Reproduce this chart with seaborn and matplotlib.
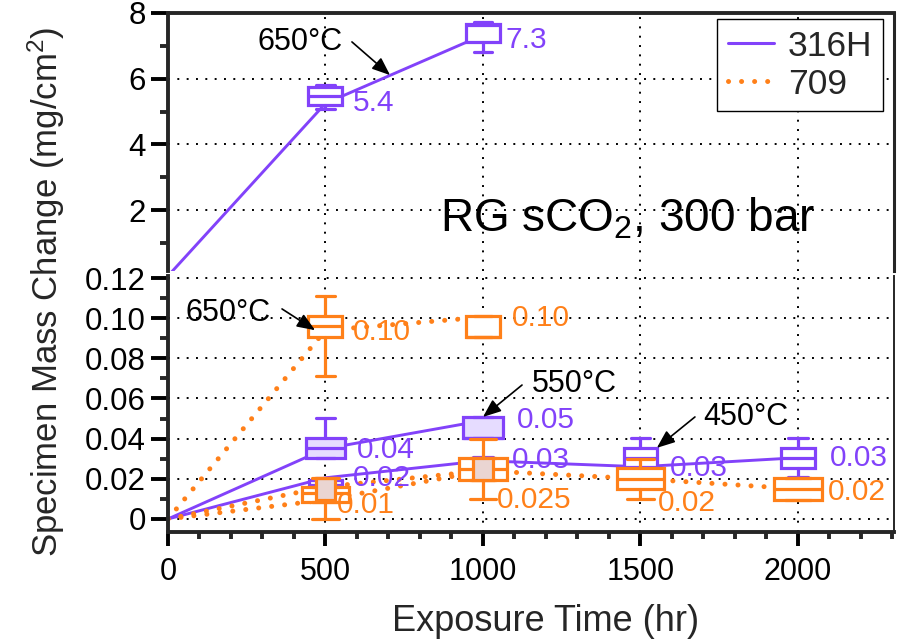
import matplotlib
matplotlib.use("Agg")
import matplotlib.pyplot as plt
from matplotlib.lines import Line2D
from matplotlib.ticker import MultipleLocator, FuncFormatter, FixedLocator
import seaborn as sns

# ---------------- data ----------------
# connecting lines (exposure time in hr, mass change in mg/cm2)
t_316H_650 = [0, 500, 1000]
m_316H_650 = [0.0, 5.25, 7.33]
t_316H_550 = [0, 500, 1000]
m_316H_550 = [0.0, 0.035, 0.049]
t_316H_450 = [0, 500, 1000, 1500, 2000]
m_316H_450 = [0.0, 0.0205, 0.029, 0.026, 0.0305]
t_709_650 = [0, 500, 1000]
m_709_650 = [0.0, 0.094, 0.1005]
t_709_550 = [0, 500, 1000]
m_709_550 = [0.0, 0.016, 0.024]
t_709_450 = [0, 500, 1000, 1500, 2000]
m_709_450 = [0.0, 0.0095, 0.024, 0.020, 0.015]

# box statistics
bx_316H_650_t = [500, 1000]
bx_316H_650_lo = [5.08, 6.81]
bx_316H_650_q1 = [5.20, 7.12]
bx_316H_650_med = [5.47, 7.64]
bx_316H_650_q3 = [5.75, 7.67]
bx_316H_650_hi = [5.81, 7.74]

bx_316H_550_t = [500, 1000]
bx_316H_550_lo = [0.0305, 0.0405]
bx_316H_550_q1 = [0.0305, 0.0405]
bx_316H_550_med = [0.0355, 0.0405]
bx_316H_550_q3 = [0.0405, 0.051]
bx_316H_550_hi = [0.0505, 0.051]

bx_316H_450_t = [500, 1000, 1500, 2000]
bx_316H_450_lo = [0.013, 0.023, 0.021, 0.021]
bx_316H_450_q1 = [0.014, 0.025, 0.026, 0.0255]
bx_316H_450_med = [0.017, 0.028, 0.0305, 0.0305]
bx_316H_450_q3 = [0.0195, 0.030, 0.0355, 0.0355]
bx_316H_450_hi = [0.0205, 0.031, 0.0405, 0.0405]

bx_709_650_t = [500, 1000]
bx_709_650_lo = [0.071, 0.0905]
bx_709_650_q1 = [0.0905, 0.0905]
bx_709_650_med = [0.096, 0.0905]
bx_709_650_q3 = [0.101, 0.101]
bx_709_650_hi = [0.111, 0.101]

bx_709_550_t = [500, 1000]
bx_709_550_lo = [0.0, 0.010]
bx_709_550_q1 = [0.0095, 0.0195]
bx_709_550_med = [0.0095, 0.0195]
bx_709_550_q3 = [0.0205, 0.0305]
bx_709_550_hi = [0.0205, 0.040]

bx_709_450_t = [500, 1000, 1500, 2000]
bx_709_450_lo = [0.0085, 0.0195, 0.010, 0.0095]
bx_709_450_q1 = [0.0085, 0.0195, 0.015, 0.0095]
bx_709_450_med = [0.013, 0.025, 0.020, 0.015]
bx_709_450_q3 = [0.016, 0.0305, 0.0255, 0.0205]
bx_709_450_hi = [0.016, 0.0305, 0.030, 0.0205]

# value labels
lbl_316H_650 = ["5.4", "7.3"]
lbl_316H_550 = ["0.04", "0.05"]
lbl_316H_450 = ["0.02", "0.03", "0.03", "0.03"]
lbl_709_650 = ["0.10", "0.10"]
lbl_709_450 = ["0.01", "0.025", "0.02", "0.02"]

x_ticks = [0, 500, 1000, 1500, 2000]
series_names = ["316H", "709"]

# ---------------- style ----------------
sns.set_theme(style="ticks")
plt.rcParams["font.family"] = ["Liberation Sans", "DejaVu Sans"]
plt.rcParams["mathtext.fontset"] = "custom"
plt.rcParams["mathtext.rm"] = "Liberation Sans"
plt.rcParams["mathtext.default"] = "regular"

PURPLE = "#8242fa"
ORANGE = "#ff8019"
LAV = "#e6dcff"
PINK = "#ead5d2"
DOT = (0, (0.01, 2.6))
GRID = (0, (1, 3.8))

W, H = 898, 642
fig = plt.figure(figsize=(W / 100, H / 100), dpi=100)
L, R = 168, 894
ax_up = fig.add_axes([L / W, 1 - 271 / H, (R - L) / W, (271 - 13) / H])
ax_lo = fig.add_axes([L / W, 1 - 532 / H, (R - L) / W, (532 - 276) / H])

XMAX = 2305
for ax in (ax_up, ax_lo):
    ax.set_xlim(0, XMAX)
    ax.xaxis.set_major_locator(FixedLocator(x_ticks))
    ax.xaxis.set_minor_locator(MultipleLocator(100))
    ax.grid(True, which="major", color="black", linestyle=GRID, linewidth=1.4)
    ax.set_axisbelow(True)
    ax.set_facecolor("white")

ax_up.set_ylim(0.15, 8.0)
ax_up.yaxis.set_major_locator(FixedLocator([2, 4, 6, 8]))
ax_up.yaxis.set_minor_locator(FixedLocator([1, 3, 5, 7]))
ax_lo.set_ylim(-0.0065, 0.121)
ax_lo.yaxis.set_major_locator(FixedLocator([0, 0.02, 0.04, 0.06, 0.08, 0.10, 0.12]))
ax_lo.yaxis.set_minor_locator(MultipleLocator(0.01))
ax_lo.yaxis.set_major_formatter(FuncFormatter(lambda v, p: "0" if abs(v) < 1e-9 else f"{v:.2f}"))
ax_up.yaxis.set_major_formatter(FuncFormatter(lambda v, p: f"{v:g}"))

# spines
ax_up.spines["bottom"].set_visible(False)
ax_up.spines["left"].set_linewidth(2.8)
ax_up.spines["top"].set_linewidth(2.8)
ax_up.spines["right"].set_linewidth(2.2)
ax_lo.spines["top"].set_visible(False)
ax_lo.spines["left"].set_linewidth(2.8)
ax_lo.spines["bottom"].set_linewidth(2.8)
ax_lo.spines["right"].set_linewidth(1.4)

ax_up.tick_params(axis="x", which="both", bottom=False, top=False, labelbottom=False)
for ax in (ax_up, ax_lo):
    ax.tick_params(axis="y", which="major", direction="out", length=12, width=2.8,
                   labelsize=22.5, pad=4, colors="black", left=True, right=False)
    ax.tick_params(axis="y", which="minor", direction="out", length=6, width=2.8,
                   left=True, right=False)
ax_lo.tick_params(axis="x", which="major", direction="out", length=10, width=2.8,
                  labelsize=22, pad=8, colors="black", bottom=True)
ax_lo.tick_params(axis="x", which="minor", direction="out", length=5, width=2.8, bottom=True)

# ---------------- lines ----------------
def line(ax, x, y, color, ls, lw):
    sns.lineplot(x=x, y=y, ax=ax, color=color, linestyle=ls, linewidth=lw,
                 sort=False, estimator=None, legend=False, zorder=2,
                 dash_capstyle="round", clip_on=True)

line(ax_up, t_316H_650, m_316H_650, PURPLE, "-", 2.1)
line(ax_lo, t_316H_550, m_316H_550, PURPLE, "-", 2.1)
line(ax_lo, t_316H_450, m_316H_450, PURPLE, "-", 2.1)
line(ax_lo, t_709_650, m_709_650, ORANGE, DOT, 3.6)
line(ax_lo, t_709_550, m_709_550, ORANGE, DOT, 3.6)
line(ax_lo, t_709_450, m_709_450, ORANGE, DOT, 3.6)

# ---------------- boxes ----------------
def boxes(ax, pos, lo, q1, med, q3, hi, color, face, width, capw, z, lw=2.3, show_med=True):
    stats = [dict(whislo=a, q1=b, med=c, q3=d, whishi=e, fliers=[])
             for a, b, c, d, e in zip(lo, q1, med, q3, hi)]
    ax.bxp(stats, positions=pos, widths=width, capwidths=capw, patch_artist=True,
           showfliers=False, manage_ticks=False, zorder=z,
           boxprops=dict(facecolor=face, edgecolor=color, linewidth=lw),
           whiskerprops=dict(color=color, linewidth=lw),
           capprops=dict(color=color, linewidth=lw),
           medianprops=dict(color=color, linewidth=lw if show_med else 0))

boxes(ax_up, bx_316H_650_t, bx_316H_650_lo, bx_316H_650_q1, bx_316H_650_med,
      bx_316H_650_q3, bx_316H_650_hi, PURPLE, "white", 108, 60, 3)
boxes(ax_lo, bx_316H_450_t, bx_316H_450_lo, bx_316H_450_q1, bx_316H_450_med,
      bx_316H_450_q3, bx_316H_450_hi, PURPLE, "white", 106, 62, 3)
boxes(ax_lo, bx_316H_550_t, bx_316H_550_lo, bx_316H_550_q1, bx_316H_550_med,
      bx_316H_550_q3, bx_316H_550_hi, PURPLE, LAV, 125, 62, 4)
boxes(ax_lo, bx_709_450_t, bx_709_450_lo, bx_709_450_q1, bx_709_450_med,
      bx_709_450_q3, bx_709_450_hi, ORANGE, "white", 150, 85, 5)
boxes(ax_lo, bx_709_550_t, bx_709_550_lo, bx_709_550_q1, bx_709_550_med,
      bx_709_550_q3, bx_709_550_hi, ORANGE, PINK, 62, 85, 6, show_med=False)
boxes(ax_lo, bx_709_650_t, bx_709_650_lo, bx_709_650_q1, bx_709_650_med,
      bx_709_650_q3, bx_709_650_hi, ORANGE, "white", 108, 58, 6)

# ---------------- value labels ----------------
VFS = 21.5
def labels(ax, texts, xy, color):
    for s, (x, y) in zip(texts, xy):
        ax.text(x, y, s, color=color, fontsize=VFS, ha="left", va="center", zorder=10)

labels(ax_up, lbl_316H_650, [(587, 5.26), (1070, 7.18)], PURPLE)
labels(ax_lo, lbl_709_650, [(587, 0.0931), (1092, 0.1000)], ORANGE)
labels(ax_lo, lbl_316H_550, [(600, 0.0344), (1108, 0.0493)], PURPLE)
labels(ax_lo, lbl_316H_450, [(587, 0.0204), (1092, 0.0294), (1594, 0.0254), (2102, 0.0304)], PURPLE)
labels(ax_lo, lbl_709_450, [(536, 0.0070), (1044, 0.0095), (1556, 0.0080), (2095, 0.0134)], ORANGE)

# ---------------- temperature annotations ----------------
AFS = 22
arrow = dict(arrowstyle="-|>,head_length=0.55,head_width=0.22", color="black",
             lw=1.2, mutation_scale=20, shrinkA=0, shrinkB=0)
def temp(ax, s, txy, a0, a1):
    ax.text(txy[0], txy[1], s, fontsize=AFS, ha="left", va="center", color="black", zorder=10)
    ax.annotate("", xy=a1, xytext=a0, arrowprops=arrow, zorder=10)

temp(ax_up, "650°C", (283, 7.12), (584, 7.12), (705, 6.11))
temp(ax_lo, "650°C", (57, 0.1026), (362, 0.1046), (467, 0.094))
temp(ax_lo, "550°C", (1156, 0.0672), (1124, 0.0667), (1000, 0.0508))
temp(ax_lo, "450°C", (1698, 0.0508), (1673, 0.0508), (1552, 0.0354))

ax_up.text(863, 1.34, "RG sCO$_2$, 300 bar", fontsize=33, ha="left", va="baseline",
           color="black", zorder=10)

# ---------------- legend ----------------
handles = [Line2D([], [], color=PURPLE, lw=2.2, linestyle="-"),
           Line2D([], [], color=ORANGE, lw=3.6, linestyle=DOT, dash_capstyle="round")]
leg = ax_up.legend(handles, series_names, loc="upper right", bbox_to_anchor=(0.985, 0.977),
                   borderaxespad=0, fontsize=25.5, handlelength=1.3, handletextpad=0.4,
                   labelspacing=0.15, borderpad=0.3, frameon=True, fancybox=False)
leg.get_frame().set_edgecolor("black")
leg.get_frame().set_linewidth(1.0)
leg.get_frame().set_alpha(1)
leg.set_zorder(20)

# ---------------- axis labels ----------------
fig.text(546 / W, 1 - 631 / H, "Exposure Time (hr)", fontsize=26, ha="center", va="baseline")
fig.text(46 / W, 1 - 292 / H, "Specimen Mass Change (mg/cm$^2$)", fontsize=25,
         rotation=90, ha="center", va="center")

fig.savefig("out.png", dpi=100)
